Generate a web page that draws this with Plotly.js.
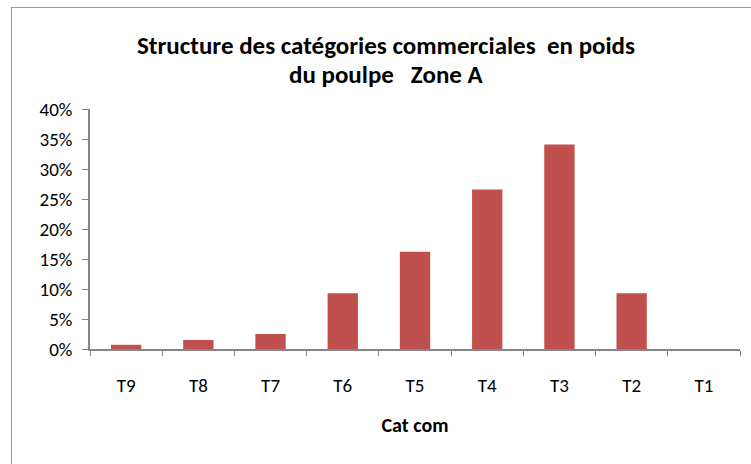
<!DOCTYPE html>
<html>
<head>
<meta charset="utf-8">
<script src="https://cdn.plot.ly/plotly-3.0.1.min.js"></script>
<style>
  body { margin: 0; background: #fff; }
  #frame { position: absolute; left: 11px; top: 7px; width: 740px; height: 457px;
           border-left: 1.5px solid #9a9a9a; border-top: 1.5px solid #9a9a9a; }
  #plot { position: absolute; left: 0; top: 0; width: 751px; height: 464px; }
</style>
</head>
<body>
<div id="frame"></div>
<div id="plot"></div>
<script>
// categories and weight shares
let categories = ['T9', 'T8', 'T7', 'T6', 'T5', 'T4', 'T3', 'T2', 'T1'];
let shares = [0.007, 0.015, 0.025, 0.093, 0.162, 0.266, 0.341, 0.093, 0.0];
let titleLines = ['Structure des catégories commerciales&nbsp; en poids', 'du poulpe &nbsp; Zone A'];

let trace = {
    x: categories,
    y: shares,
    type: 'bar',
    marker: {color: '#C0504D'},
    hoverinfo: 'x+y'
};

let font = 'Carlito, Calibri, "Open Sans", "Liberation Sans", sans-serif';

// the two title lines as annotations so the line spacing can be set
let titleAnnotations = titleLines.map(function(line, i) {
    return {
        text: '<b>' + line + '</b>',
        xref: 'paper', yref: 'paper',
        x: -0.045, xanchor: 'center',
        y: 1 + (64 - i * 29) / 240, yanchor: 'middle',
        showarrow: false,
        font: {family: font, size: 25, color: '#000'}
    };
});
titleAnnotations.forEach(function(a) { a.xref = 'paper'; a.x = (386 - 90) / 650; });

var layout = {
    width: 751,
    height: 464,
    margin: {l: 90, r: 11, t: 109, b: 115},
    paper_bgcolor: 'rgba(0,0,0,0)',
    plot_bgcolor: 'rgba(0,0,0,0)',
    bargap: 0.58,
    showlegend: false,
    font: {family: font, size: 17, color: '#000'},
    annotations: titleAnnotations,
    xaxis: {
        type: 'category',
        showline: true,
        linecolor: '#868686',
        linewidth: 1.5,
        ticks: 'outside',
        tickson: 'boundaries',
        ticklen: 5,
        tickcolor: '#868686',
        tickwidth: 1,
        showgrid: false,
        ticklabelstandoff: 18,
        tickfont: {family: font, size: 19},
        title: {text: '<b>Cat com</b>', font: {family: font, size: 20}, standoff: 22}
    },
    yaxis: {
        range: [0, 0.4],
        dtick: 0.05,
        tickformat: '.0%',
        showline: true,
        linecolor: '#868686',
        linewidth: 1.5,
        ticks: 'outside',
        ticklen: 6,
        tickcolor: '#868686',
        showgrid: false,
        zeroline: false,
        ticklabelstandoff: 6,
        tickfont: {family: font, size: 19}
    }
};

Plotly.newPlot('plot', [trace], layout, {displayModeBar: false});
</script>
</body>
</html>
